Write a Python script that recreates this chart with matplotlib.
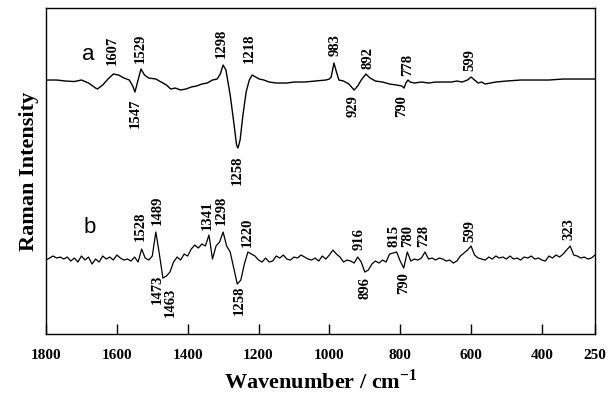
import numpy as np
import matplotlib
matplotlib.use("Agg")
import matplotlib.pyplot as plt

plt.rcParams['font.family'] = ['Liberation Serif', 'DejaVu Serif']
plt.rcParams['mathtext.fontset'] = 'custom'
plt.rcParams['mathtext.rm'] = 'Liberation Serif'
plt.rcParams['mathtext.bf'] = 'Liberation Serif:bold'

# spectrum a (relative intensity, baseline = 0)
wn_a = [1800, 1770, 1745, 1720, 1700, 1680, 1660, 1655, 1640, 1625, 1610, 1595, 1580,
        1565, 1555, 1549, 1540, 1532, 1522, 1510, 1490, 1475, 1460, 1448, 1435, 1420,
        1405, 1390, 1375, 1360, 1345, 1330, 1317, 1308, 1300, 1292, 1280, 1270, 1262,
        1258, 1252, 1244, 1235, 1226, 1218, 1208, 1198, 1185, 1170, 1150, 1120, 1100,
        1070, 1040, 1010, 1000, 995, 987, 980, 973, 960, 945, 930, 920, 910, 897, 885,
        870, 850, 830, 810, 795, 789, 784, 778, 772, 760, 740, 720, 700, 680, 655, 640,
        625, 610, 600, 590, 580, 570, 560, 545, 530, 500, 460, 420, 380, 340, 300, 250]
int_a = [0, 0, -1, -1.5, 0, -3, -8, -9, -5, 1, 6, 5, 2,
         0, -6, -12, 0, 11, 5, 2, 1, -2, -5, -9, -8, -10,
         -9, -7, -6, -4, -3, 0, 1, 6, 15, 10, -15, -42, -65,
         -68, -60, -35, -12, 0, 5, 3, 1, 0, -2, -3, -3, -2,
         -2, -1, 0, 1, 3, 17, 8, 0, -1, -4, -10, -6, 0, 6, 2,
         -1, -2, -4, -5, -6, -8, -3, 0, -2, -3, -2, -3, -2, -2, -2, -1,
         -2, 0, 3, 0, -3, -2, -4, -3, -2, -1, 0, 0, 0, 1, 1, 1]

# spectrum b, sampled every 10 cm-1 from 1800 to 250
wn_b = list(range(1800, 249, -10))
int_b = [-2, 0, 2, 0, 1, -1, 1, -3, 0, -4, 2, -2, 1, -6, -1, -4, 2, -1, 1, -2,
         3, 0, -2, -1, -3, 1, -4, 9, 0, -2, 2, 26, 4, -20, -18, -14, -4, 1, -2, 4,
         2, 9, 13, 10, 14, 12, 23, -1, 12, 16, 26, 12, 6, -10, -26, -22, -6, 6, 4,
         2, -2, -4, 0, -4, -3, 2, 0, 3, -1, -2, 1, 0, 3, 1, -1, -2, 0, -3, 2,
         -1, 3, 8, 4, 1, -4, -2, -3, -5, 1, -4, -14, -12, -6, -3, -5, -2, -4, 4,
         5, 6, -3, -10, 6, -3, -1, -2, 0, 6, -1, 0, -2, 0, -1, -3, -2, -5, -3, 2,
         5, 8, 12, 3, 0, -1, -2, 1, -1, 2, 0, 1, -1, 2, -1, 0, -2, 1, 0, 2,
         -1, 0, -2, -3, 2, 0, 3, 1, 4, 8, 12, 3, 2, 0, 1, -1, 0, 3]

# peak labels: text, x (wavenumber), y (plot units), above/below
lab_a = ["1607", "1529", "1547", "1298", "1218", "1258", "983", "892", "929", "778", "790", "599"]
lab_a_x = [1612, 1535, 1547, 1306, 1227, 1259, 984, 892, 933, 778, 796, 603]
lab_a_y = [269, 271, 236, 276, 271, 179, 278, 265, 239, 258, 239, 263]
lab_a_up = [1, 1, 0, 1, 1, 0, 1, 1, 0, 1, 0, 1]

lab_b = ["1528", "1489", "1473", "1463", "1341", "1298", "1220", "1258",
         "916", "896", "815", "780", "728", "790", "599", "323"]
lab_b_x = [1534, 1487, 1486, 1448, 1346, 1304, 1232, 1254,
           915, 899, 818, 780, 733, 791, 603, 323]
lab_b_y = [93, 109, 59, 46, 104, 109, 87, 49,
           84, 57, 87, 87, 87, 62, 92, 94]
lab_b_up = [1, 1, 0, 0, 1, 1, 1, 0, 1, 0, 1, 1, 1, 0, 1, 1]

off_a = 254
off_b = 76

fig = plt.figure(figsize=(6.12, 4.01), dpi=100)
ax = fig.add_axes([0.0752, 0.167, 0.897, 0.813])

ax.plot(wn_a, np.array(int_a) + off_a, color='black', lw=1.0)
ax.plot(wn_b, np.array(int_b) + off_b, color='black', lw=0.9)

for t, x, y, up in zip(lab_a + lab_b, lab_a_x + lab_b_x, lab_a_y + lab_b_y, lab_a_up + lab_b_up):
    ax.text(x, y, t, rotation=90, ha='center', va='bottom' if up else 'top',
            fontsize=10.5, fontweight='bold')

ax.text(1680, 280, 'a', fontsize=16, family='Liberation Sans', ha='center', va='center')
ax.text(1677, 107, 'b', fontsize=16, family='Liberation Sans', ha='center', va='center')

ax.set_xlim(1800, 250)
ax.set_ylim(0, 326)
ax.set_xticks([1800, 1600, 1400, 1200, 1000, 800, 600, 400, 250])
ax.set_yticks([])
ax.tick_params(axis='x', direction='in', length=7, width=1, pad=11, labelsize=11)
for lbl in ax.get_xticklabels():
    lbl.set_fontweight('bold')
for s in ax.spines.values():
    s.set_linewidth(1.0)

ax.set_xlabel(r'Wavenumber / cm$^{\mathbf{-1}}$', fontsize=16, fontweight='bold', labelpad=5)
ax.set_ylabel('Raman Intensity', fontsize=16, fontweight='bold', labelpad=5)

fig.savefig('out.png', dpi=100)
